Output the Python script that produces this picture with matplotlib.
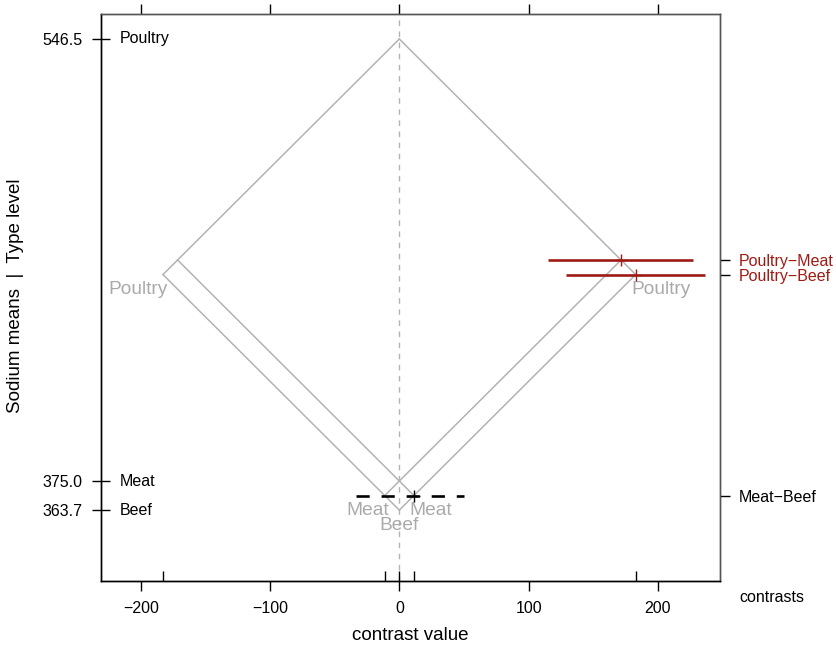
import matplotlib
matplotlib.use('Agg')
import matplotlib.pyplot as plt
import numpy as np
from matplotlib import transforms

plt.rcParams['font.family'] = ['Liberation Sans', 'DejaVu Sans']

## Data: group means and pairwise contrasts
levels = ['Poultry', 'Meat', 'Beef']
means = [546.5, 375.0, 363.7]
mean_labels = ['546.5', '375.0', '363.7']

pairs = [(0, 1), (0, 2), (1, 2)]
contrast_names = ['Poultry\u2212Meat', 'Poultry\u2212Beef', 'Meat\u2212Beef']
lower = [115.0, 128.9, -33.5]
upper = [227.1, 236.4, 49.7]
significant = [True, True, False]

x_ticks = [-200, -100, 0, 100, 200]

red = '#9e1b14'
grey = '#b3b3b3'

m = np.array(means)
est = np.array([m[i] - m[j] for i, j in pairs])
height = np.array([(m[i] + m[j]) / 2 for i, j in pairs])

fig = plt.figure(figsize=(8.37, 6.45), dpi=100)
ax = fig.add_axes([0.1207, 0.0992, 0.7395, 0.8791])
ax.set_xlim(-230.7, 248)
ax.set_ylim(336.2, 556.2)

# zero line
ax.axvline(0, color=grey, lw=1, ls=(0, (4, 4)), zorder=1)

# iso-mean grid (the diamond)
mmin, mmax = m.min(), m.max()
for k, mi in enumerate(m):
    for s in (1, -1):
        xs = [s * (mi - mmin), s * (mi - mmax)]
        ys = [(mi + mmin) / 2, (mi + mmax) / 2]
        ax.plot(xs, ys, color=grey, lw=1.1, zorder=2)
    # level labels at lower ends
    xl = mi - mmin
    yl = (mi + mmin) / 2
    if xl == 0:
        ax.annotate(levels[k], (0, yl), xytext=(0, -11), textcoords='offset points',
                    ha='center', va='center', color='#aaaaaa', fontsize=13.8)
    else:
        for s in (1, -1):
            ax.annotate(levels[k], (s * xl, yl), xytext=(-s * 3.3, -10.5),
                        textcoords='offset points',
                        ha='left' if s > 0 else 'right', va='center',
                        color='#aaaaaa', fontsize=13.8)

# confidence intervals
for c in range(len(pairs)):
    if significant[c]:
        ax.plot([lower[c], upper[c]], [height[c], height[c]], color=red, lw=1.9,
                solid_capstyle='butt', zorder=3)
        ax.plot(est[c], height[c], '+', color=red, ms=8, mew=1, zorder=4)
    else:
        ax.plot([lower[c], upper[c]], [height[c], height[c]], color='black', lw=1.9,
                ls=(0, (5, 4.5)), zorder=3)
        ax.plot(est[c], height[c], '+', color='black', ms=8, mew=1, zorder=4)

# x axis ticks
ax.set_xticks(x_ticks)
ax.set_xticklabels([f'{t:d}'.replace('-', '\u2212') for t in x_ticks])
ax.tick_params(axis='x', which='major', direction='out', length=7, width=1,
               top=True, labeltop=False, labelsize=11.5, pad=7.5)
inner = sorted(set(np.round(np.concatenate([est[[1, 2]], -est[[1, 2]], [0]]), 1)))
ax.xaxis.remove_overlapping_locs = False
ax.set_xticks(inner, minor=True)
ax.tick_params(axis='x', which='minor', direction='in', length=7.2, width=1,
               top=False, bottom=True)

# left axis: means
ax.set_yticks(means)
ax.set_yticklabels(mean_labels)
ax.tick_params(axis='y', direction='inout', length=13, width=1, labelsize=11.5, pad=0.5)
ax.yaxis.set_tick_params(which='major', pad=7)
trans = transforms.blended_transform_factory(ax.transAxes, ax.transData)
for k, mi in enumerate(m):
    ax.text(0.0307, mi, levels[k], transform=trans, ha='left', va='center', fontsize=11.5)

# right axis: contrasts
ax2 = ax.twinx()
ax2.set_ylim(ax.get_ylim())
ax2.set_yticks(height)
ax2.set_yticklabels(contrast_names)
ax2.tick_params(axis='y', direction='out', length=7.2, width=1, labelsize=11.5, pad=6)
for lab, tl, sig in zip(contrast_names, ax2.get_yticklabels(), significant):
    tl.set_color(red if sig else 'black')
for tk, sig in zip(ax2.yaxis.get_major_ticks(), significant):
    tk.tick2line.set_color(red if sig else 'black')

for a in (ax, ax2):
    for side in ('left', 'bottom'):
        a.spines[side].set_color('black')
    for side in ('top', 'right'):
        a.spines[side].set_color('#555555')
    for sp in a.spines.values():
        sp.set_linewidth(1)

fig.text(0.4898, 0.0140, 'contrast value', ha='center', va='center', fontsize=13.5)
fig.text(0.0185, 0.542, 'Sodium means  |  Type level', rotation=90,
         ha='center', va='center', fontsize=13.5)
fig.text(0.8829, 0.0744, 'contrasts', ha='left', va='center', fontsize=11.5)

fig.savefig('out.png', dpi=100)
